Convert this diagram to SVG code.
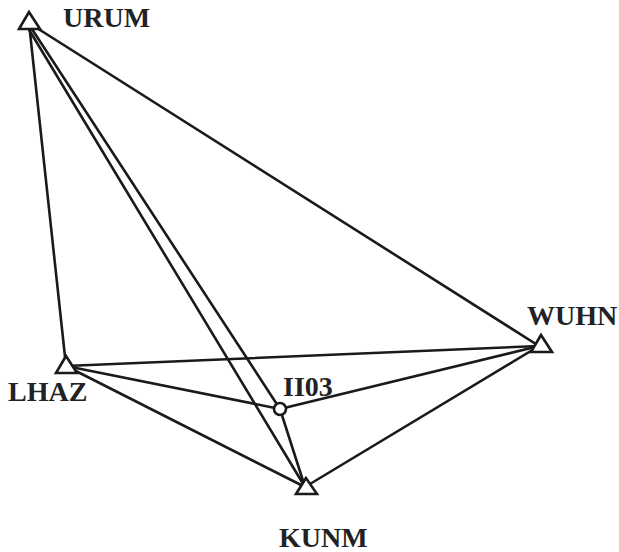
<svg xmlns="http://www.w3.org/2000/svg" width="619" height="552" viewBox="0 0 619 552">
<style>
.ln{stroke:#1a1a1a;stroke-width:2.6;fill:none;stroke-linecap:round}
.st{stroke:#1a1a1a;stroke-width:2.6;fill:#fff;stroke-linejoin:miter}
.lb{font-family:"Liberation Serif","Times New Roman",serif;font-weight:bold;font-size:28px;fill:#222}
</style>
<rect width="619" height="552" fill="#fff"/>
<g id="connectors">
<line class="ln" x1="29" y1="23" x2="66" y2="366"/>
<line class="ln" x1="29" y1="23" x2="539" y2="346"/>
<line class="ln" x1="25" y1="23" x2="305" y2="487"/>
<line class="ln" x1="28" y1="23" x2="280" y2="409"/>
<line class="ln" x1="66" y1="366" x2="539" y2="346"/>
<line class="ln" x1="66" y1="366" x2="280" y2="409"/>
<line class="ln" x1="66" y1="366" x2="305" y2="487"/>
<line class="ln" x1="280" y1="409" x2="539" y2="346"/>
<line class="ln" x1="280" y1="409" x2="305" y2="487"/>
<line class="ln" x1="539" y1="346" x2="305" y2="487"/>
</g>
<g id="URUM">
<polygon class="st" points="29,12 19,29 40,29"/>
<text class="lb" x="63" y="27">URUM</text>
</g>
<g id="LHAZ">
<polygon class="st" points="66,356 56,373 77,373"/>
<text class="lb" x="8" y="401">LHAZ</text>
</g>
<g id="II03">
<circle class="st" cx="280" cy="409" r="6"/>
<text class="lb" x="283" y="396">II03</text>
</g>
<g id="WUHN">
<polygon class="st" points="541,335 531,352 552,352"/>
<text class="lb" x="527" y="325">WUHN</text>
</g>
<g id="KUNM">
<polygon class="st" points="306,478 296,494 317,494"/>
<text class="lb" x="279" y="547">KUNM</text>
</g>
</svg>
